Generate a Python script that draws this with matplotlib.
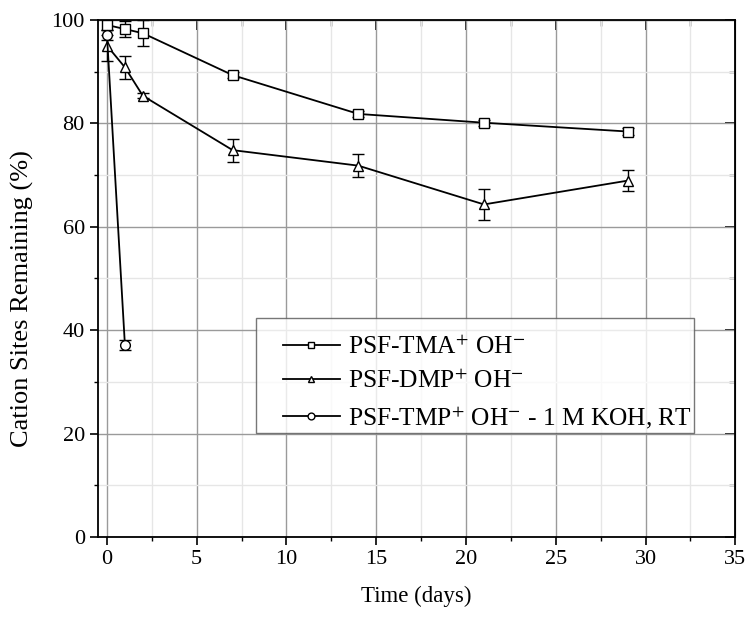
import matplotlib
matplotlib.use("Agg")
import matplotlib.pyplot as plt
from matplotlib.ticker import MultipleLocator
from matplotlib.legend_handler import HandlerLine2D

plt.rcParams['font.family'] = ['Liberation Serif', 'DejaVu Serif']
plt.rcParams['mathtext.fontset'] = 'stix'

# data
tma_days = [0, 1, 2, 7, 14, 21, 29]
tma_vals = [99.0, 98.2, 97.4, 89.3, 81.8, 80.1, 78.4]
tma_err = [2.0, 1.5, 2.5, 0.6, 0.6, 0.6, 0.6]

dmp_days = [0, 1, 2, 7, 14, 21, 29]
dmp_vals = [95.0, 90.8, 85.3, 74.8, 71.8, 64.3, 68.9]
dmp_err = [3.0, 2.2, 0.5, 2.2, 2.2, 3.0, 2.0]

tmp_days = [0, 1]
tmp_vals = [97.0, 37.1]
tmp_err = [1.0, 1.0]

labels = [r'PSF-TMA$^{+}$ OH$^{-}$',
          r'PSF-DMP$^{+}$ OH$^{-}$',
          r'PSF-TMP$^{+}$ OH$^{-}$ - 1 M KOH, RT']

fig = plt.figure(figsize=(7.48, 6.18), dpi=100)
ax = fig.add_axes([0.131, 0.131, 0.852, 0.837])

style = dict(color='black', lw=1.3, mfc='white', mec='black', mew=1.0,
             ms=7, ecolor='black', elinewidth=1.0, capsize=4)
ax.errorbar(tma_days, tma_vals, yerr=tma_err, marker='s', label=labels[0], **style)
ax.errorbar(dmp_days, dmp_vals, yerr=dmp_err, marker='^', label=labels[1], **style)
ax.errorbar(tmp_days, tmp_vals, yerr=tmp_err, marker='o', label=labels[2], **style)

ax.set_xlim(-0.5, 35)
ax.set_ylim(0, 100)
ax.xaxis.set_major_locator(MultipleLocator(5))
ax.xaxis.set_minor_locator(MultipleLocator(2.5))
ax.yaxis.set_major_locator(MultipleLocator(20))
ax.yaxis.set_minor_locator(MultipleLocator(10))
ax.grid(which='major', color='#9a9a9a', lw=1.0)
ax.grid(which='minor', color='#e6e6e6', lw=1.0)
ax.set_axisbelow(True)

ax.tick_params(which='major', direction='out', length=6, width=1.2, labelsize=16)
ax.tick_params(which='minor', direction='out', length=3, width=1.0)
for s in ax.spines.values():
    s.set_linewidth(1.3)

# inward ticks on the top and right frame
top = ax.secondary_xaxis('top')
top.xaxis.set_major_locator(MultipleLocator(5))
top.xaxis.set_minor_locator(MultipleLocator(2.5))
top.tick_params(which='major', direction='in', length=7, width=1.2, labeltop=False)
top.tick_params(which='minor', direction='in', length=4, width=1.0)
right = ax.secondary_yaxis('right')
right.yaxis.set_major_locator(MultipleLocator(20))
right.yaxis.set_minor_locator(MultipleLocator(10))
right.tick_params(which='major', direction='in', length=7, width=1.2, labelright=False)
right.tick_params(which='minor', direction='in', length=4, width=1.0)

ax.set_xlabel('Time (days)', fontsize=16.5, labelpad=12)
ax.set_ylabel('Cation Sites Remaining (%)', fontsize=19)
ax.yaxis.set_label_coords(-0.100, 0.462)

handles, labs = ax.get_legend_handles_labels()
handles = [h[0] for h in handles]
leg = ax.legend(handles, labs, loc='upper left', bbox_to_anchor=(0.248, 0.424),
                fontsize=18.3, frameon=True, fancybox=False, edgecolor='#555555',
                title=' ', title_fontsize=3,
                handlelength=3.2, handletextpad=0.3, labelspacing=0.44,
                borderpad=0.1, borderaxespad=0, markerscale=0.7,
                handler_map={h: HandlerLine2D(xpad=0.95) for h in handles})
leg.get_frame().set_linewidth(1.0)

fig.savefig('out.png', dpi=100)
